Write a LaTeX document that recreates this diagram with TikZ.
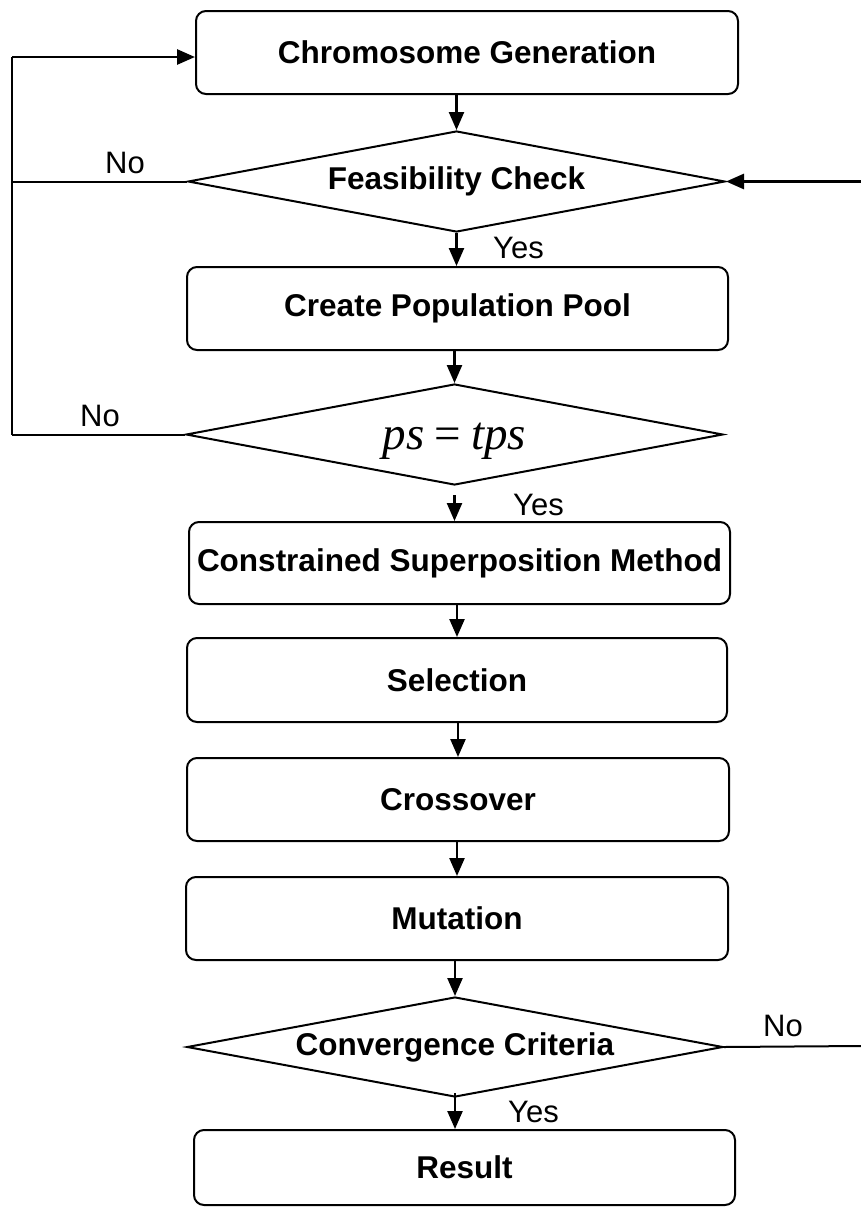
\documentclass[tikz,border=0pt]{standalone}
\usepackage{fontspec}
\setmainfont{Liberation Sans}
\newfontfamily\tmsfont{Liberation Serif}
\usetikzlibrary{shapes.geometric,arrows.meta}
\begin{document}
\begin{tikzpicture}[x=1pt,y=-1pt,
  stepbox/.style={draw, line width=2pt, rounded corners=10pt, inner sep=0pt,
    font=\fontsize{31.5}{31.5}\selectfont\bfseries},
  decision/.style={draw, diamond, line width=2pt, inner sep=0pt, aspect=5.3,
    font=\fontsize{31.5}{31.5}\selectfont\bfseries},
  arr/.style={-{Triangle[length=18pt,width=15pt]}, line width=2.4pt},
  loopline/.style={line width=2.6pt},
  lbl/.style={anchor=base, inner sep=0pt, font=\fontsize{31}{31}\selectfont}
]
\useasboundingbox (0,0) rectangle (861,1208);

% process steps and decisions
\node[stepbox, minimum width=542pt, minimum height=83pt] (cg) at (467,52.5) {Chromosome Generation};
\node[decision, minimum width=537pt, minimum height=101pt] (fc) at (456.5,181.5) {Feasibility Check};
\node[stepbox, minimum width=541pt, minimum height=83pt] (cp) at (457.5,308.5) {Create Population Pool};
\node[decision, minimum width=537pt, minimum height=101pt, font=\fontsize{47}{47}\selectfont\tmsfont] (ps) at (454.5,434.5)
  {\raisebox{-7pt}[\height][\depth]{\textit{ps}\hspace{10pt}=\hspace{10pt}\textit{tps}}};
\node[stepbox, minimum width=541pt, minimum height=82pt] (csm) at (459.5,563) {Constrained Superposition Method};
\node[stepbox, minimum width=540pt, minimum height=84pt] (sel) at (457,680) {Selection};
\node[stepbox, minimum width=542pt, minimum height=83pt] (co) at (458,799.5) {Crossover};
\node[stepbox, minimum width=542pt, minimum height=83pt] (mu) at (457,918.5) {Mutation};
\node[decision, minimum width=536pt, minimum height=100pt] (cc) at (455,1047) {Convergence Criteria};
\node[stepbox, minimum width=541pt, minimum height=75pt] (res) at (464.5,1167.5) {Result};

% main flow
\draw[arr] (fc.north |- cg.south) -- (fc.north);
\draw[arr] (fc.south) -- (fc.south |- cp.north);
\draw[arr] (ps.north |- cp.south) -- (ps.north);
\draw[arr] (ps.south) ++(0,9) -- (ps.south |- csm.north);
\draw[arr] (sel.north |- csm.south) -- (sel.north);
\draw[arr] (co.north |- sel.south) -- (co.north);
\draw[arr] (mu.north |- co.south) -- (mu.north);
\draw[arr] (cc.north |- mu.south) -- (cc.north);
\draw[arr] (cc.south) ++(0,-5) -- (cc.south |- res.north);

% feedback on the left
\coordinate (loopTop) at (12,57);
\draw[line width=2pt] (fc.west) -- (fc.west -| loopTop);
\draw[line width=2pt] (ps.west) -- (ps.west -| loopTop);
\draw[loopline] (ps.west -| loopTop) -- (loopTop);
\draw[arr, line width=2.8pt] (loopTop) -- (loopTop -| cg.west);

% feedback on the right
\coordinate (rightIn) at (861,181.5);
\coordinate (rightOut) at (861,1046);
\draw[arr, line width=2.8pt] (rightIn) -- (fc.east);
\draw[line width=2pt] (cc.east) -- (rightOut);

% branch labels
\node[lbl] (no1) at (125,173) {No};
\node[lbl] (no2) at (100,426) {No};
\node[lbl] (no3) at (783,1036) {No};
\node[lbl, anchor=base west] (yes1) at (493,258) {Yes};
\node[lbl, anchor=base west] (yes2) at (513,515) {Yes};
\node[lbl, anchor=base west] (yes3) at (508,1122) {Yes};
\end{tikzpicture}
\end{document}
